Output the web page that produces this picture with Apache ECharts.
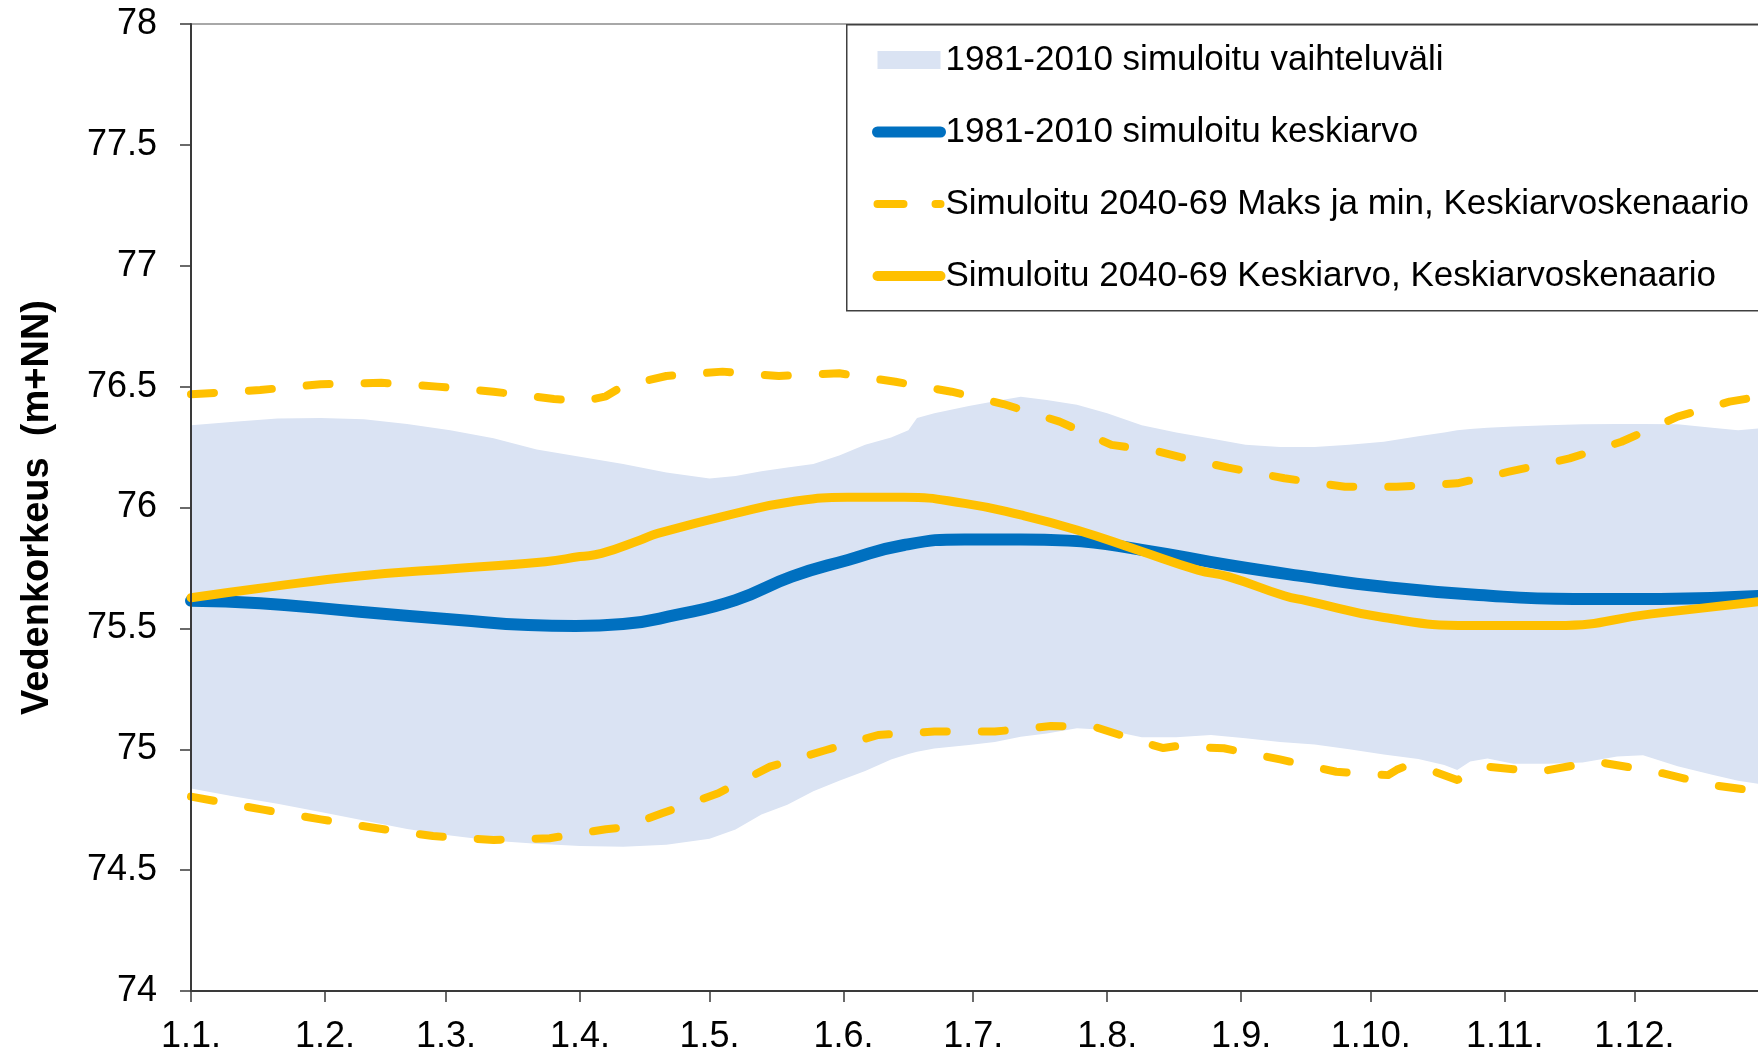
<!DOCTYPE html>
<html lang="fi">
<head>
    <meta charset="UTF-8">
    <title>Vedenkorkeus</title>
    <script src="https://cdn.jsdelivr.net/npm/echarts@6/dist/echarts.min.js"></script>
    <style>
        html, body { margin: 0; padding: 0; background: #fff; }
        #main { width: 1758px; height: 1058px; }
    </style>
</head>
<body>
<div id="main"></div>
<script>
    // x-akseli: päivä vuoden alusta (1.1. = 0)
    const monthStarts = [0, 31, 59, 90, 120, 151, 181, 212, 243, 273, 304, 334];
    const monthLabels = ['1.1.', '1.2.', '1.3.', '1.4.', '1.5.', '1.6.', '1.7.', '1.8.', '1.9.', '1.10.', '1.11.', '1.12.'];

    // 1981-2010 vaihteluväli (ala- ja yläraja)
    const bandDays = [0, 10, 20, 30, 40, 50, 60, 70, 80, 90, 100, 110, 120, 126, 132, 138, 144, 150, 156, 162,
        166, 168, 172, 180, 186, 192, 198, 205, 212, 220, 228, 236, 244, 252, 260, 268, 276, 284, 290, 293,
        296, 300, 306, 314, 322, 330, 336, 344, 352, 358, 365];
    const bandUpper = [76.34, 76.355, 76.368, 76.37, 76.365, 76.345, 76.32, 76.286, 76.24, 76.21,
        76.18, 76.145, 76.12, 76.13, 76.15, 76.165, 76.18, 76.215, 76.26, 76.29,
        76.32, 76.37, 76.39, 76.42, 76.44, 76.458, 76.445, 76.425, 76.39, 76.34,
        76.31, 76.285, 76.26, 76.25, 76.25, 76.26, 76.272, 76.295, 76.31, 76.32,
        76.325, 76.33, 76.335, 76.34, 76.344, 76.345, 76.345, 76.344, 76.33, 76.32,
        76.33];
    const bandLower = [74.838, 74.805, 74.775, 74.74, 74.705, 74.67, 74.643, 74.622, 74.609, 74.60,
        74.597, 74.605, 74.63, 74.668, 74.73, 74.77, 74.826, 74.87, 74.91, 74.958,
        74.98, 74.99, 75.003, 75.018, 75.03, 75.052, 75.065, 75.087, 75.08, 75.05,
        75.05, 75.059, 75.045, 75.03, 75.02, 75.0, 74.978, 74.96, 74.935, 74.914,
        74.949, 74.962, 74.94, 74.94, 74.945, 74.97, 74.975, 74.93, 74.895, 74.87,
        74.85];

    // 1981-2010 keskiarvo
    const meanDays = [0, 16, 39, 62, 78, 89, 100, 112, 126, 139, 152, 165, 179, 192, 203, 220, 240, 258, 276, 298, 320, 340, 365];
    const mean1981 = [75.614, 75.604, 75.569, 75.535, 75.514, 75.510, 75.518, 75.555, 75.617, 75.714, 75.783, 75.845,
        75.868, 75.868, 75.863, 75.825, 75.762, 75.714, 75.672, 75.638, 75.622, 75.622, 75.636];

    // 2040-69 keskiarvo
    const futMeanDays = [0, 16, 39, 62, 82, 90, 95, 104, 108, 126, 139, 152, 165, 179, 192, 205, 219, 233, 240, 253, 258,
        276, 296, 316, 338, 365];
    const futMean = [75.627, 75.666, 75.717, 75.749, 75.776, 75.797, 75.81, 75.866, 75.893, 75.976, 76.024, 76.042,
        76.042, 76.017, 75.969, 75.907, 75.824, 75.741, 75.714, 75.635, 75.615, 75.545, 75.512, 75.512, 75.56, 75.615];

    // 2040-69 maksimi
    const futMaxDays = [0, 16, 30, 44, 57, 70, 84, 91, 96, 100, 110, 123, 136, 150, 163, 176, 188, 201, 213, 224,
        229, 240, 253, 267, 279, 293, 305, 319, 331, 344, 356, 365];
    const futMax = [76.468, 76.486, 76.51, 76.516, 76.50, 76.479, 76.449, 76.44, 76.46, 76.503, 76.544, 76.562,
        76.544, 76.555, 76.52, 76.479, 76.428, 76.355, 76.259, 76.231, 76.208, 76.165, 76.121, 76.086, 76.086,
        76.100, 76.148, 76.203, 76.272, 76.376, 76.438, 76.465];

    // 2040-69 minimi
    const futMinDays = [0, 17, 30, 43, 56, 70, 83, 96, 100, 109, 122, 134, 147, 159, 172, 186, 199, 209, 215, 222,
        225, 228, 239, 252, 265, 277, 279, 281, 287, 293, 300, 312, 325, 339, 352, 365];
    const futMin = [74.804, 74.749, 74.71, 74.673, 74.641, 74.625, 74.632, 74.669, 74.676, 74.735, 74.818, 74.928,
        74.997, 75.059, 75.073, 75.073, 75.096, 75.093, 75.059, 75.02, 75.005, 75.013, 75.004, 74.958, 74.907,
        74.893, 74.915, 74.93, 74.912, 74.873, 74.928, 74.907, 74.949, 74.907, 74.852, 74.82];

    const nameBand = '1981-2010 simuloitu vaihteluväli';
    const nameMean = '1981-2010 simuloitu keskiarvo';
    const nameMaxMin = 'Simuloitu 2040-69 Maks ja min, Keskiarvoskenaario';
    const nameFutMean = 'Simuloitu 2040-69 Keskiarvo, Keskiarvoskenaario';

    // kuva on rajattu oikealta vähän ennen vuoden loppua
    const xMax = 362.6;

    const pair = (xs, ys) => xs.map((x, i) => [x, ys[i]]);

    const font = "'Liberation Sans', Arial, sans-serif";
    const bandColor = '#DAE3F3';
    const blue = '#0070C0';
    const yellow = '#FFC000';
    const dashStyle = {color: yellow, width: 8, type: [23, 35], cap: 'round', join: 'round'};
    const noSymbol = {color: 'rgba(0,0,0,0)', borderWidth: 0};

    let myChart = echarts.init(document.getElementById('main'));

    let option = {
        animation: false,
        textStyle: {fontFamily: font},
        // selitteen kehys jatkuu kuvan oikean reunan yli
        graphic: [{
            type: 'rect',
            left: 846,
            top: 24,
            z: 5,
            shape: {width: 1000, height: 286},
            style: {fill: '#fff', stroke: '#404040', lineWidth: 1.5}
        }],
        grid: {
            left: 191,
            right: 0,
            top: 24,
            bottom: 67
        },
        legend: {
            orient: 'vertical',
            left: 846,
            top: 24,
            z: 6,
            padding: [16, 20, 16, 26],
            itemGap: 32,
            itemWidth: 63,
            itemHeight: 18,
            selectedMode: false,
            textStyle: {fontFamily: font, fontSize: 35, lineHeight: 40, color: '#000'},
            data: [
                {name: nameBand, icon: 'rect', itemStyle: {color: bandColor}},
                {name: nameMean, itemStyle: noSymbol, lineStyle: {width: 11, color: blue, cap: 'round'}},
                {name: nameMaxMin, itemStyle: noSymbol, lineStyle: {width: 8, color: yellow, type: [26, 32], cap: 'round'}},
                {name: nameFutMean, itemStyle: noSymbol, lineStyle: {width: 10, color: yellow, cap: 'round'}}
            ]
        },
        xAxis: [
            {
                type: 'value',
                min: 0,
                max: xMax,
                z: 10,
                axisLine: {lineStyle: {color: '#3a3a3a', width: 2}},
                axisTick: {
                    show: true,
                    length: 11,
                    customValues: monthStarts,
                    lineStyle: {color: '#3a3a3a', width: 1.5}
                },
                axisLabel: {
                    customValues: monthStarts,
                    margin: 28,
                    fontSize: 36,
                    fontFamily: font,
                    color: '#000',
                    formatter: function (v) {
                        let i = monthStarts.indexOf(v);
                        return i >= 0 ? monthLabels[i] : '';
                    }
                },
                splitLine: {show: false}
            },
            {
                // kuva-alueen yläreuna
                type: 'value',
                position: 'top',
                min: 0,
                max: xMax,
                z: 1,
                axisLine: {show: true, lineStyle: {color: '#8c8c8c', width: 1.5}},
                axisTick: {show: false},
                axisLabel: {show: false},
                splitLine: {show: false}
            }
        ],
        yAxis: {
            type: 'value',
            min: 74,
            max: 78,
            interval: 0.5,
            z: 10,
            name: 'Vedenkorkeus  (m+NN)',
            nameLocation: 'middle',
            nameRotate: 90,
            nameGap: 134,
            nameTextStyle: {fontFamily: font, fontSize: 38, fontWeight: 'bold', color: '#000'},
            axisLine: {show: true, lineStyle: {color: '#3a3a3a', width: 2}},
            axisTick: {show: true, length: 11, lineStyle: {color: '#3a3a3a', width: 1.5}},
            axisLabel: {margin: 34, fontSize: 36, fontFamily: font, color: '#000'},
            splitLine: {show: false}
        },
        series: [
            {
                // yläraja täytettynä akselille asti
                name: nameBand,
                type: 'line',
                data: pair(bandDays, bandUpper),
                symbol: 'none',
                lineStyle: {width: 0, opacity: 0},
                itemStyle: {color: bandColor},
                areaStyle: {color: bandColor, opacity: 1, origin: 'start'},
                silent: true,
                z: 1
            },
            {
                // alaraja: valkoinen täyttö peittää alueen alarajan alta
                name: 'alaraja',
                type: 'line',
                data: pair(bandDays, bandLower),
                symbol: 'none',
                lineStyle: {width: 0, opacity: 0},
                itemStyle: {color: '#fff'},
                areaStyle: {color: '#fff', opacity: 1, origin: 'start'},
                silent: true,
                z: 2
            },
            {
                name: nameMaxMin,
                type: 'line',
                data: pair(futMaxDays, futMax),
                symbol: 'none',
                itemStyle: {color: yellow},
                lineStyle: dashStyle,
                z: 3
            },
            {
                name: nameMaxMin,
                type: 'line',
                data: pair(futMinDays, futMin),
                symbol: 'none',
                itemStyle: {color: yellow},
                lineStyle: dashStyle,
                z: 3
            },
            {
                name: nameMean,
                type: 'line',
                data: pair(meanDays, mean1981),
                symbol: 'none',
                smooth: 0.5,
                itemStyle: {color: blue},
                lineStyle: {color: blue, width: 12, cap: 'round', join: 'round'},
                z: 4
            },
            {
                name: nameFutMean,
                type: 'line',
                data: pair(futMeanDays, futMean),
                symbol: 'none',
                smooth: 0.5,
                itemStyle: {color: yellow},
                lineStyle: {color: yellow, width: 9, cap: 'round', join: 'round'},
                z: 4
            }
        ]
    };

    myChart.setOption(option);
    window.addEventListener('resize', function () {
        myChart.resize();
    });
</script>
</body>
</html>
